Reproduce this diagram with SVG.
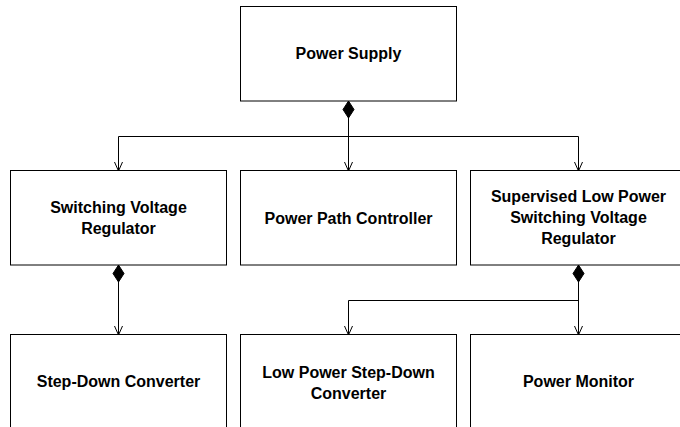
<svg xmlns="http://www.w3.org/2000/svg" width="680" height="427" viewBox="0 0 680 427">
<style>
.box{fill:#fff;stroke:#000;stroke-width:1}
.lbl{font-family:"Liberation Sans",Arial,Helvetica,sans-serif;font-size:16px;font-weight:bold;fill:#000;text-anchor:middle}
.conn{fill:none;stroke:#000;stroke-width:1}
</style>
<defs>
<marker id="dia" markerUnits="userSpaceOnUse" markerWidth="20" markerHeight="14" refX="0" refY="0" viewBox="-1 -7 20 14" orient="auto" overflow="visible">
<polygon points="0,0 8.5,-5.5 17,0 8.5,5.5" fill="#000" stroke="#000" stroke-width="1"/>
</marker>
<marker id="arr" markerUnits="userSpaceOnUse" markerWidth="12" markerHeight="10" refX="0" refY="0" viewBox="-11 -5 12 10" orient="auto" overflow="visible">
<polyline points="-9,-4 0,0 -9,4" fill="none" stroke="#000" stroke-width="1"/>
</marker>
</defs>
<rect width="680" height="427" fill="#fff"/>
<g id="connectors">
<path class="conn" d="M348.5,101 V171" marker-start="url(#dia)" marker-end="url(#arr)"/>
<path class="conn" d="M348.5,136.5 H118.5 V171" marker-end="url(#arr)"/>
<path class="conn" d="M348.5,136.5 H578.5 V171" marker-end="url(#arr)"/>
<path class="conn" d="M118.5,265 V335" marker-start="url(#dia)" marker-end="url(#arr)"/>
<path class="conn" d="M578.5,265 V335" marker-start="url(#dia)" marker-end="url(#arr)"/>
<path class="conn" d="M578.5,300.5 H348.5 V335" marker-end="url(#arr)"/>
</g>
<g id="power-supply">
<rect class="box" x="240.5" y="6.5" width="216" height="94.5"/>
<text class="lbl" x="348.5" y="59">Power Supply</text>
</g>
<g id="switching-voltage-regulator">
<rect class="box" x="10.5" y="170.5" width="216" height="94.5"/>
<text class="lbl" x="118.5" y="212.8">Switching Voltage</text>
<text class="lbl" x="118.5" y="233.5">Regulator</text>
</g>
<g id="power-path-controller">
<rect class="box" x="240.5" y="170.5" width="216" height="94.5"/>
<text class="lbl" x="348.5" y="224">Power Path Controller</text>
</g>
<g id="supervised-regulator">
<rect class="box" x="470.5" y="170.5" width="216" height="94.5"/>
<text class="lbl" x="578.5" y="202.3">Supervised Low Power</text>
<text class="lbl" x="578.5" y="223.1">Switching Voltage</text>
<text class="lbl" x="578.5" y="243.9">Regulator</text>
</g>
<g id="step-down-converter">
<rect class="box" x="10.5" y="334.5" width="216" height="94.5"/>
<text class="lbl" x="118.5" y="387">Step-Down Converter</text>
</g>
<g id="low-power-step-down-converter">
<rect class="box" x="240.5" y="334.5" width="216" height="94.5"/>
<text class="lbl" x="348.5" y="378">Low Power Step-Down</text>
<text class="lbl" x="348.5" y="398.5">Converter</text>
</g>
<g id="power-monitor">
<rect class="box" x="470.5" y="334.5" width="216" height="94.5"/>
<text class="lbl" x="578.5" y="387">Power Monitor</text>
</g>
</svg>
